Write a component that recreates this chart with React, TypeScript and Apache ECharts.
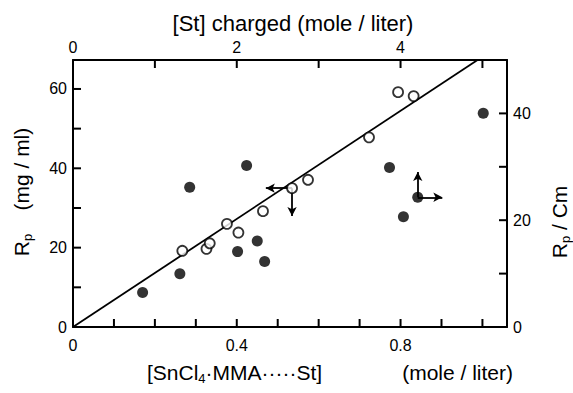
import React, { useEffect, useRef } from 'react';
import * as echarts from 'echarts';

// [SnCl4·MMA----St] (mole/liter) vs Rp (mg/ml)
const solidX = [0.17, 0.261, 0.285, 0.424, 0.402, 0.45, 0.468, 0.773, 0.842, 0.807, 1.002];
const solidY = [8.7, 13.4, 35.2, 40.7, 19.0, 21.7, 16.5, 40.2, 32.7, 27.8, 53.9];
const openX = [0.267, 0.326, 0.334, 0.376, 0.404, 0.464, 0.535, 0.574, 0.723, 0.794, 0.832];
const openY = [19.2, 19.7, 21.1, 26.0, 23.8, 29.2, 35.0, 37.1, 47.8, 59.2, 58.2];
const fitX = [0, 0.988];
const fitY = [0, 67.3];
const arrowFromX = [0.535, 0.535, 0.842, 0.842];
const arrowFromY = [35.0, 35.0, 32.7, 32.7];
const arrowToX = [0.471, 0.535, 0.842, 0.902];
const arrowToY = [35.0, 28.0, 39.1, 32.7];

const bottomLabels = [0, 0.4, 0.8];
const topLabels = [0, 2, 4];
const leftLabels = [0, 20, 40, 60];
const rightLabels = [0, 20, 40];
const bottomTicks = [0.1, 0.2, 0.3, 0.4, 0.5, 0.6, 0.7, 0.8, 0.9, 1.0];
const topTicks = [1, 2, 3, 4, 5];
const leftTicks = [10, 20, 30, 40, 50, 60];
const rightTicks = [10, 20, 30, 40];

const X_MAX = 1.06;
const TOP_MAX = 5.3;
const Y_MAX = 67.3;
const R_MAX = 50;

const FONT = 'Liberation Sans';
const near = (v: number, list: number[]) => list.some((t) => Math.abs(v - t) < 1e-6);

const mkLine = () => ({ show: true, onZero: false, lineStyle: { color: '#000', width: 2, type: 'solid' as const, opacity: 1 } });
const mkLbl = (margin: number, list: number[], dec: boolean) => ({
  show: true, color: '#000', fontSize: 16, fontFamily: FONT, margin,
  formatter: (v: number) => (near(v, list) ? (dec ? String(Math.round(v * 10) / 10) : String(Math.round(v))) : ''),
});

const TICK_LEN = 8;
const TICK_W = 2;
const tickSeries = (
  values: number[], xAxisIndex: number, yAxisIndex: number,
  toPoint: (v: number) => number[], dx: number, dy: number,
) => ({
  type: 'custom', xAxisIndex, yAxisIndex, z: 10, silent: true, clip: false,
  encode: { x: 0, y: 1 },
  data: values.map((v) => toPoint(v)),
  renderItem: (params: any, api: any) => {
    const p = api.coord([api.value(0), api.value(1)]);
    const w = dx !== 0 ? TICK_LEN : TICK_W;
    const h = dy !== 0 ? TICK_LEN : TICK_W;
    const x = dx > 0 ? p[0] : dx < 0 ? p[0] - TICK_LEN : p[0] - TICK_W / 2;
    const y = dy > 0 ? p[1] : dy < 0 ? p[1] - TICK_LEN : p[1] - TICK_W / 2;
    return {
      type: 'rect',
      shape: { x, y, width: w, height: h },
      style: { fill: '#000' },
    };
  },
});

export default function App() {
  const ref = useRef<HTMLDivElement>(null);
  useEffect(() => {
    if (!ref.current) return;
    const chart = echarts.init(ref.current, undefined, { renderer: 'svg' });
    const sub = { fontSize: 13, fontFamily: FONT, color: '#000', lineHeight: 13, padding: [12, 0, 0, 0] };
    const big = { fontSize: 21, fontFamily: FONT, color: '#000', lineHeight: 24 };
    chart.setOption({
      animation: false,
      backgroundColor: '#fff',
      grid: { left: 73, right: 66, top: 60, bottom: 66, containLabel: false, show: false },
      xAxis: [
        {
          type: 'value', position: 'bottom', min: 0, max: X_MAX, interval: 0.1,
          axisLine: mkLine(), axisTick: { show: false }, splitLine: { show: false },
          axisLabel: mkLbl(10, bottomLabels, true),
        },
        {
          type: 'value', position: 'top', min: 0, max: TOP_MAX, interval: 1,
          axisLine: mkLine(), axisTick: { show: false }, splitLine: { show: false },
          axisLabel: mkLbl(5, topLabels, false),
        },
      ],
      yAxis: [
        {
          type: 'value', position: 'left', min: 0, max: Y_MAX, interval: 10,
          axisLine: mkLine(), axisTick: { show: false }, splitLine: { show: false },
          axisLabel: mkLbl(6, leftLabels, false),
        },
        {
          type: 'value', position: 'right', min: 0, max: R_MAX, interval: 10,
          axisLine: mkLine(), axisTick: { show: false }, splitLine: { show: false },
          axisLabel: mkLbl(6, rightLabels, false),
        },
      ],
      graphic: [
        {
          type: 'text', x: 293, y: 23,
          style: { text: '[St] charged (mole / liter)', font: `22px "${FONT}"`, fill: '#000', textAlign: 'center', textVerticalAlign: 'middle' },
        },
        {
          type: 'text', x: 147, y: 372,
          style: {
            text: '{a|[SnCl}{s|4}{a|·MMA·····St]}',
            rich: { a: big, s: sub }, textAlign: 'left', textVerticalAlign: 'middle',
          },
        },
        {
          type: 'text', x: 513, y: 372,
          style: { text: '(mole / liter)', font: `21px "${FONT}"`, fill: '#000', textAlign: 'right', textVerticalAlign: 'middle' },
        },
        {
          type: 'text', x: 21, y: 192, rotation: Math.PI / 2,
          style: {
            text: '{a|R}{s|p}{a|    (mg / ml)}',
            rich: { a: big, s: sub }, textAlign: 'center', textVerticalAlign: 'middle',
          },
        },
        {
          type: 'text', x: 559, y: 222, rotation: Math.PI / 2,
          style: {
            text: '{a|R}{s|p}{a| / Cm}',
            rich: { a: big, s: sub }, textAlign: 'center', textVerticalAlign: 'middle',
          },
        },
      ],
      series: [
        {
          type: 'line', xAxisIndex: 0, yAxisIndex: 0, symbol: 'none', z: 2,
          lineStyle: { color: '#000', width: 1.8 },
          data: fitX.map((x, i) => [x, fitY[i]]),
        },
        {
          type: 'scatter', xAxisIndex: 0, yAxisIndex: 0, z: 3, symbol: 'circle', symbolSize: 11,
          itemStyle: { color: '#000' },
          data: solidX.map((x, i) => [x, solidY[i]]),
          markLine: {
            silent: true, symbol: ['none', 'arrow'], symbolSize: [7, 9], animation: false,
            label: { show: false },
            lineStyle: { color: '#000', width: 1.8, type: 'solid' },
            emphasis: { disabled: true },
            data: arrowFromX.map((x, i) => [
              { coord: [x, arrowFromY[i]] },
              { coord: [arrowToX[i], arrowToY[i]] },
            ]),
          },
        },
        {
          type: 'scatter', xAxisIndex: 0, yAxisIndex: 0, z: 5, symbol: 'circle', symbolSize: 10,
          itemStyle: { color: '#fff', borderColor: '#000', borderWidth: 1.8 },
          data: openX.map((x, i) => [x, openY[i]]),
        },
        tickSeries(bottomTicks, 0, 0, (v) => [v, 0], 0, -1),
        tickSeries(topTicks, 1, 0, (v) => [v, Y_MAX], 0, 1),
        tickSeries(leftTicks, 0, 0, (v) => [0, v], 1, 0),
        tickSeries(rightTicks, 0, 1, (v) => [X_MAX, v], -1, 0),
      ],
    });
    return () => chart.dispose();
  }, []);
  return <div ref={ref} style={{ position: 'fixed', left: 0, top: 0, width: 573, height: 393 }} />;
}
